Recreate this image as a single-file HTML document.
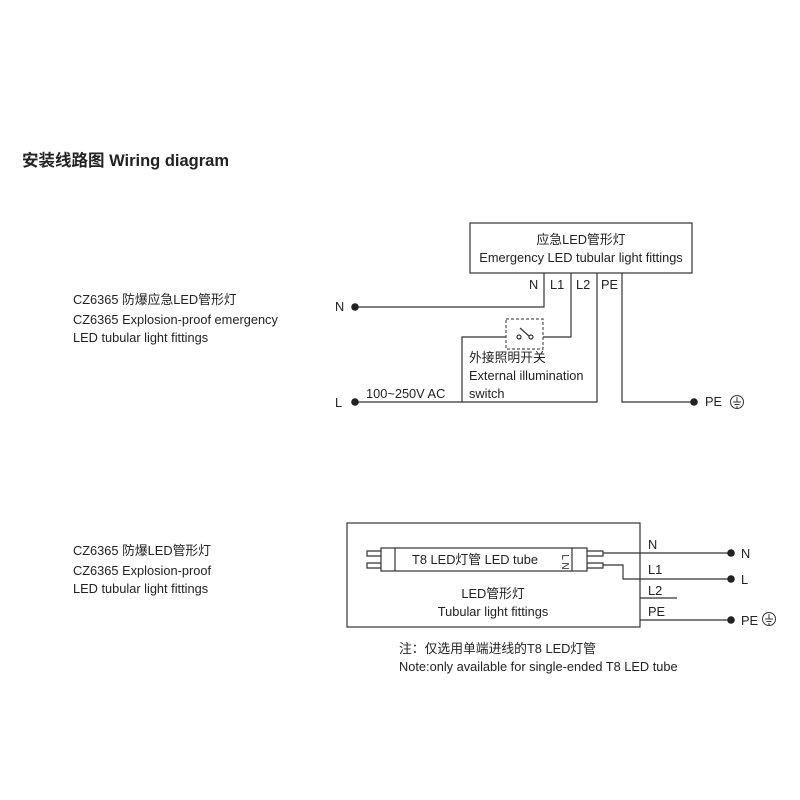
<!DOCTYPE html>
<html><head><meta charset="utf-8"><style>
html,body{margin:0;padding:0;background:#fff;}
svg{display:block;}
text{font-family:"Liberation Sans","Noto Sans CJK SC",sans-serif;fill:#222;}
</style></head><body>
<svg width="800" height="800" viewBox="0 0 800 800" xmlns="http://www.w3.org/2000/svg">
<text x="22" y="166" font-size="16.5" font-weight="bold" fill="#111">安装线路图 Wiring diagram</text>
<g font-size="12.8">
<text x="73" y="304">CZ6365 防爆应急LED管形灯</text>
<text x="73" y="324">CZ6365 Explosion-proof emergency</text>
<text x="73" y="342">LED tubular light fittings</text>
<text x="73" y="555">CZ6365 防爆LED管形灯</text>
<text x="73" y="575">CZ6365 Explosion-proof</text>
<text x="73" y="593">LED tubular light fittings</text>
</g>
<g fill="none" stroke="#333" stroke-width="1.2">
<rect x="470" y="223" width="222" height="50"/>
<polyline points="544,273 544,307 355,307"/>
<polyline points="571,273 571,337 543,337"/>
<polyline points="506,337 462,337 462,402"/>
<polyline points="355,402 597,402 597,273"/>
<polyline points="622,273 622,402 694,402"/>
<rect x="506" y="319" width="37" height="30" stroke-dasharray="3,2" stroke="#555"/>
<line x1="520" y1="328" x2="530" y2="337"/>
<circle cx="519" cy="337" r="2" fill="#fff"/>
<circle cx="531" cy="337" r="2" fill="#fff"/>
</g>
<g fill="#222">
<circle cx="355" cy="307" r="3.8"/>
<circle cx="355" cy="402" r="3.8"/>
<circle cx="694" cy="402" r="3.8"/>
</g>
<g font-size="12.8">
<text x="581" y="244" text-anchor="middle">应急LED管形灯</text>
<text x="581" y="262" text-anchor="middle">Emergency LED tubular light fittings</text>
<text x="529" y="289">N</text>
<text x="550" y="289">L1</text>
<text x="576" y="289">L2</text>
<text x="601" y="289">PE</text>
<text x="335" y="311">N</text>
<text x="335" y="407">L</text>
<text x="366" y="398">100~250V AC</text>
<text x="469" y="362">外接照明开关</text>
<text x="469" y="380">External illumination</text>
<text x="469" y="398">switch</text>
<text x="705" y="406">PE</text>
</g>
<g fill="none" stroke="#333" stroke-width="1">
<circle cx="737" cy="402" r="6.5"/>
<line x1="737" y1="397" x2="737" y2="402"/>
<line x1="733" y1="402" x2="741" y2="402"/>
<line x1="734.5" y1="404.5" x2="739.5" y2="404.5"/>
<line x1="736" y1="407" x2="738" y2="407"/>
<circle cx="769" cy="619" r="6.5"/>
<line x1="769" y1="614" x2="769" y2="619"/>
<line x1="765" y1="619" x2="773" y2="619"/>
<line x1="766.5" y1="621.5" x2="771.5" y2="621.5"/>
<line x1="768" y1="624" x2="770" y2="624"/>
</g>
<g fill="none" stroke="#333" stroke-width="1.2">
<rect x="347" y="523" width="293" height="104"/>
<rect x="381" y="548" width="206" height="23"/>
<line x1="395" y1="548" x2="395" y2="571"/>
<line x1="572" y1="548" x2="572" y2="571"/>
<polyline points="381,551 367,551 367,556 381,556"/>
<polyline points="381,563 367,563 367,568 381,568"/>
<polyline points="587,551 603,551 603,556 587,556"/>
<polyline points="587,563 603,563 603,568 587,568"/>
<line x1="603" y1="553" x2="731" y2="553"/>
<polyline points="603,565 623,565 623,579 731,579"/>
<line x1="640" y1="598" x2="677" y2="598"/>
<line x1="640" y1="620" x2="731" y2="620"/>
</g>
<g fill="#222">
<circle cx="731" cy="553" r="3.8"/>
<circle cx="731" cy="579" r="3.8"/>
<circle cx="731" cy="620" r="3.8"/>
</g>
<g font-size="12.8">
<text x="475" y="564" text-anchor="middle">T8 LED灯管 LED tube</text>
<text x="565" y="559" font-size="10" transform="rotate(90 562 559)" text-anchor="middle">L N</text>
<text x="493" y="598" text-anchor="middle">LED管形灯</text>
<text x="493" y="616" text-anchor="middle">Tubular light fittings</text>
<text x="648" y="549">N</text>
<text x="648" y="574">L1</text>
<text x="648" y="595">L2</text>
<text x="648" y="616">PE</text>
<text x="741" y="558">N</text>
<text x="741" y="584">L</text>
<text x="741" y="625">PE</text>
<text x="399" y="653">注：仅选用单端进线的T8 LED灯管</text>
<text x="399" y="671">Note:only available for single-ended T8 LED tube</text>
</g>
</svg>
</body></html>
